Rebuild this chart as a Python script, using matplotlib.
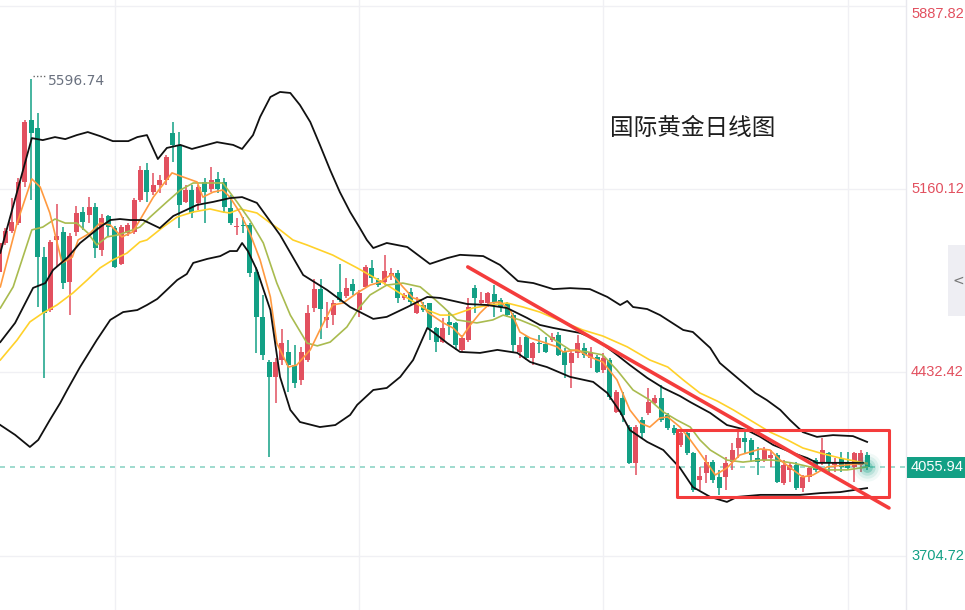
import matplotlib
matplotlib.use("Agg")
import matplotlib.pyplot as plt
from matplotlib.patches import Rectangle
from matplotlib.lines import Line2D
import numpy as np

# daily candles
opens = [4831, 4946, 4994, 5026, 5188, 5434, 5402, 4891, 4680, 4958,
         4990, 4791, 4990, 5069, 5058, 5089, 4918, 5053, 5006, 4863,
         4986, 4990, 5117, 5236, 5149, 5176, 5196, 5382, 5335, 5109,
         5156, 5105, 5188, 5160, 5200, 5188, 5085, 5010, 5018, 5018,
         4831, 4653, 4474, 4415, 4482, 4514, 4462, 4403, 4482, 4688,
         4764, 4641, 4661, 4752, 4736, 4784, 4680, 4772, 4847, 4800,
         4791, 4819, 4827, 4728, 4752, 4669, 4700, 4708, 4609, 4554,
         4633, 4629, 4522, 4562, 4768, 4708, 4708, 4744, 4720, 4708,
         4661, 4514, 4573, 4490, 4550, 4546, 4562, 4581, 4514, 4470,
         4510, 4530, 4490, 4494, 4443, 4482, 4276, 4331, 4217, 4074,
         4244, 4272, 4312, 4331, 4264, 4213, 4145, 4193, 4113, 4006,
         4034, 4078, 4018, 4018, 4078, 4133, 4173, 4165, 4094, 4086,
         4094, 4105, 3994, 4046, 4066, 3974, 4018, 4086, 4078, 4113,
         4066, 4094, 4078, 4058, 4066, 4105]
highs = [4958, 5006, 5125, 5204, 5434, 5596.74, 5462, 4930, 4958, 5101,
         5010, 4986, 5093, 5089, 5129, 5105, 5061, 5057, 5014, 5018,
         5026, 5125, 5252, 5264, 5224, 5216, 5295, 5426, 5386, 5176,
         5176, 5176, 5204, 5248, 5228, 5204, 5137, 5045, 5049, 5026,
         4851, 4740, 4482, 4490, 4605, 4562, 4542, 4534, 4700, 4803,
         4803, 4712, 4720, 4863, 4807, 4803, 4760, 4859, 4879, 4807,
         4899, 4847, 4839, 4748, 4768, 4732, 4712, 4708, 4613, 4648,
         4669, 4633, 4581, 4728, 4780, 4752, 4752, 4780, 4728, 4712,
         4669, 4573, 4581, 4554, 4581, 4573, 4589, 4593, 4530, 4522,
         4581, 4550, 4534, 4502, 4510, 4490, 4363, 4355, 4224, 4224,
         4256, 4371, 4343, 4383, 4272, 4224, 4205, 4197, 4117, 4058,
         4105, 4086, 4046, 4098, 4153, 4197, 4197, 4173, 4137, 4137,
         4125, 4113, 4086, 4078, 4078, 4026, 4058, 4094, 4173, 4117,
         4094, 4117, 4117, 4117, 4125, 4117]
lows = [4819, 4938, 4986, 5018, 5168, 5117, 4692, 4411, 4673, 4851,
        4764, 4661, 4974, 4998, 5026, 4887, 4895, 4970, 4847, 4859,
        4974, 4982, 5109, 5109, 5137, 5145, 5176, 5267, 5006, 5105,
        5045, 5077, 5026, 5149, 5145, 5065, 5018, 4978, 4986, 4811,
        4510, 4482, 4098, 4312, 4462, 4355, 4371, 4383, 4474, 4673,
        4566, 4609, 4621, 4712, 4728, 4740, 4653, 4768, 4788, 4772,
        4780, 4800, 4708, 4720, 4700, 4665, 4673, 4562, 4514, 4550,
        4581, 4522, 4514, 4554, 4669, 4700, 4692, 4653, 4673, 4653,
        4514, 4490, 4482, 4462, 4510, 4510, 4554, 4498, 4411, 4371,
        4490, 4490, 4450, 4431, 4431, 4324, 4272, 4236, 4070, 4026,
        4173, 4264, 4308, 4236, 4205, 4185, 4137, 4105, 3959, 3967,
        3994, 3994, 3947, 3967, 4046, 4094, 4113, 4078, 4026, 4078,
        4058, 3994, 3986, 3998, 3967, 3959, 3998, 4038, 4066, 4038,
        4038, 4038, 4046, 3998, 4038, 4046]
closes = [4946, 4994, 5030, 5188, 5426, 5382, 4891, 4669, 4950, 4974,
          4788, 4974, 5065, 5030, 5089, 4926, 5045, 5010, 4851, 5010,
          5018, 5117, 5236, 5149, 5176, 5196, 5287, 5335, 5097, 5156,
          5065, 5168, 5149, 5196, 5160, 5089, 5026, 5014, 5014, 4827,
          4653, 4502, 4415, 4474, 4550, 4462, 4391, 4514, 4669, 4764,
          4684, 4653, 4708, 4720, 4768, 4756, 4748, 4851, 4807, 4780,
          4835, 4827, 4728, 4740, 4712, 4712, 4680, 4609, 4554, 4609,
          4621, 4542, 4569, 4692, 4728, 4720, 4748, 4712, 4692, 4661,
          4542, 4542, 4490, 4550, 4546, 4514, 4573, 4502, 4462, 4510,
          4550, 4502, 4514, 4435, 4490, 4335, 4355, 4264, 4074, 4217,
          4193, 4316, 4331, 4244, 4213, 4193, 4193, 4113, 3967, 4022,
          4078, 4006, 3974, 4074, 4125, 4173, 4157, 4105, 4078, 4125,
          4105, 3998, 4066, 4066, 3974, 4018, 4054, 4046, 4125, 4078,
          4078, 4058, 4054, 4113, 4113, 4055.94]

# bollinger bands (upper / middle / lower), sampled at candle positions
up_x = [0.2, 5.1, 6.8, 8.7, 10.3, 12.1, 13.8, 15.7, 17.7, 20.1, 21.5, 23.0, 24.7, 26.1, 28.2,
        30.0, 33.9, 36.4, 37.8, 39.5, 40.6, 42.2, 43.7, 45.3, 46.8, 48.4, 49.9, 51.5, 53.0, 54.6,
        56.1, 57.2, 58.2, 60.3, 63.5, 67.0, 69.7, 71.7, 75.3, 77.9, 80.7, 83.1, 86.2, 88.8, 91.9,
        94.6, 96.6, 97.7, 98.6, 100.8, 102.8, 106.4, 107.9, 110.6, 112.1, 115.2, 117.6, 119.4,
        121.5, 123.0, 125.0, 127.2, 129.7, 132.8, 135.0]
up_v = [4907, 5362, 5354, 5366, 5358, 5374, 5386, 5370, 5350, 5350, 5366, 5374, 5279, 5323, 5335,
        5319, 5346, 5335, 5319, 5374, 5446, 5525, 5545, 5541, 5493, 5426, 5335, 5235, 5148, 5069,
        5006, 4958, 4926, 4946, 4930, 4863, 4886, 4899, 4894, 4859, 4795, 4787, 4763, 4767, 4763,
        4732, 4700, 4716, 4692, 4684, 4660, 4601, 4593, 4530, 4470, 4403, 4351, 4323,
        4284, 4244, 4196, 4177, 4184, 4180, 4157]
mid_x = [0.2, 2.5, 5.3, 7.2, 8.4, 10.6, 12.6, 15.7, 17.3, 18.8, 20.4, 22.4, 25.0, 27.1, 30.8,
         33.3, 35.9, 37.8, 40.1, 43.7, 47.3, 51.0, 54.6, 58.2, 60.3, 63.5, 66.6, 68.6, 72.8, 75.9,
         79.0, 82.1, 84.1, 86.2, 90.4, 93.0, 95.5, 98.1, 100.8, 103.3, 105.9, 107.5, 110.6, 113.2,
         116.3, 118.4, 120.4, 123.5, 125.7, 127.2, 131.9, 134.4]
mid_v = [4553, 4629, 4768, 4787, 4839, 4887, 4946, 5009, 5037, 5041, 5037, 5037, 5005, 5053, 5097,
         5109, 5124, 5128, 5105, 4978, 4819, 4760, 4692, 4645, 4653, 4692, 4732, 4728, 4704, 4700,
         4688, 4649, 4621, 4609, 4589, 4561, 4514, 4462, 4411, 4371, 4339, 4315, 4272, 4224,
         4204, 4177, 4145, 4113, 4093, 4074, 4074, 4074]
low_x = [0.2, 2.5, 4.8, 6.1, 7.9, 9.5, 10.6, 12.6, 15.2, 17.3, 19.3, 21.5, 23.0, 24.6, 26.1,
         27.7, 29.2, 30.2, 32.4, 34.4, 35.9, 37.0, 37.8, 38.7, 40.1, 42.2, 43.7, 45.3, 46.8, 49.9,
         52.3, 54.6, 55.7, 58.2, 60.3, 62.4, 64.4, 66.6, 67.5, 69.7, 71.7, 74.8, 77.5, 80.6, 82.6,
         84.1, 85.2, 88.8, 92.4, 94.6, 96.6, 98.1, 100.8, 103.3, 105.9, 107.9, 110.6, 113.2, 114.8,
         118.4, 124.6, 127.7, 130.8, 135.0]
low_v = [4224, 4185, 4137, 4165, 4244, 4311, 4363, 4454, 4561, 4641, 4672, 4680, 4700, 4724, 4760,
         4799, 4823, 4867, 4883, 4894, 4914, 4914, 4946, 4914, 4839, 4680, 4415, 4284, 4236, 4216,
         4224, 4264, 4304, 4363, 4371, 4415, 4482, 4609, 4593, 4549, 4514, 4510, 4522, 4510, 4474,
         4462, 4454, 4415, 4395, 4351, 4276, 4204, 4157, 4125, 4054, 3978, 3939, 3919, 3939,
         3947, 3947, 3954, 3958, 3974]

# moving averages
ma5_x = [0.2, 2.8, 5.1, 6.4, 7.9, 9.8, 11.4, 12.3, 14.2, 15.7, 17.3, 19.1, 20.8, 21.9, 24.0,
         26.9, 28.6, 30.8, 31.7, 33.3, 34.8, 35.9, 37.5, 39.0, 40.6, 42.2, 43.2, 45.0, 46.3, 48.4,
         49.9, 51.9, 53.5, 55.7, 57.7, 59.3, 61.1, 62.8, 64.4, 65.5, 66.6, 69.1, 70.6, 72.0, 73.3,
         74.8, 76.4, 77.9, 79.5, 81.0, 82.6, 84.6, 86.8, 87.7, 89.9, 91.9, 93.9, 96.1, 98.1, 99.7,
         101.2, 102.8, 104.0, 105.9, 107.5, 109.0, 111.4, 113.2, 115.2, 118.4, 119.9, 121.5, 123.5,
         125.0, 126.6, 128.8, 131.9, 135.0]
ma5_v = [4772, 5025, 5200, 5168, 5065, 4867, 4890, 4958, 4986, 5025, 5017, 4970, 4990, 5037, 5128,
         5224, 5208, 5188, 5128, 5148, 5156, 5128, 5065, 4986, 4879, 4732, 4549, 4454, 4462, 4522,
         4601, 4700, 4708, 4748, 4779, 4791, 4823, 4772, 4728, 4720, 4672, 4629, 4609, 4573, 4621,
         4668, 4708, 4712, 4680, 4593, 4569, 4553, 4534, 4514, 4522, 4494, 4474, 4403, 4284, 4232,
         4216, 4252, 4256, 4216, 4165, 4113, 4026, 4054, 4105, 4129, 4125, 4085, 4046,
         4018, 4026, 4058, 4066, 4073]
ma10_x = [0.2, 2.2, 5.1, 6.8, 8.7, 10.3, 12.1, 13.8, 15.2, 16.8, 18.5, 20.8, 21.9, 23.5, 26.1,
          28.2, 30.2, 32.8, 34.8, 37.0, 39.0, 41.1, 43.2, 45.3, 47.9, 49.5, 51.5, 54.1, 56.1, 57.7,
          60.3, 62.8, 65.5, 67.0, 69.1, 71.2, 74.3, 76.8, 78.4, 81.0, 83.7, 85.7, 88.8, 91.5, 93.9,
          96.1, 98.6, 101.2, 103.3, 105.4, 107.5, 109.0, 110.6, 113.2, 115.7, 118.4, 120.4, 123.5,
          126.1, 128.8, 131.9, 135.0]
ma10_v = [4688, 4772, 4998, 5009, 5041, 5025, 5025, 4986, 4938, 4970, 4978, 4998, 5009, 5049, 5109,
          5156, 5184, 5184, 5184, 5109, 5037, 4946, 4787, 4660, 4549, 4538, 4553, 4613, 4692, 4740,
          4779, 4787, 4772, 4740, 4692, 4641, 4629, 4641, 4660, 4641, 4613, 4573, 4522, 4514, 4502,
          4442, 4363, 4323, 4276, 4244, 4216, 4165, 4125, 4085, 4077, 4085, 4085, 4073,
          4058, 4046, 4046, 4058]
ma30_x = [0.2, 2.8, 4.8, 6.8, 9.0, 11.5, 13.7, 15.7, 17.7, 19.9, 21.9, 23.0, 25.5, 27.7, 30.2,
          32.8, 34.8, 35.9, 37.5, 40.1, 42.2, 43.7, 45.7, 47.9, 51.9, 55.7, 58.2, 60.8, 63.5, 66.6,
          68.6, 70.6, 73.7, 76.4, 79.0, 81.5, 84.1, 87.7, 90.8, 93.9, 97.7, 101.2, 104.0, 106.4,
          109.0, 111.7, 114.2, 117.3, 119.9, 122.6, 125.0, 127.7, 130.8, 133.9, 135.0]
ma30_v = [4482, 4561, 4633, 4668, 4700, 4748, 4799, 4847, 4879, 4906, 4950, 4958, 5009, 5049, 5069,
          5081, 5069, 5065, 5081, 5065, 5025, 4998, 4958, 4938, 4898, 4847, 4811, 4772, 4728, 4680,
          4660, 4660, 4688, 4700, 4708, 4692, 4672, 4633, 4601, 4577, 4534, 4482, 4454, 4403,
          4351, 4319, 4284, 4236, 4196, 4165, 4133, 4113, 4093, 4077, 4070]

# drawn annotations: trend line ends and consolidation box
trend_x = [72.9, 138.4]
trend_v = [4851, 3895]
box_x = [105.4, 138.4]
box_v = [3938, 4204]

axis_ticks = [5887.82, 5160.12, 4432.42, 3704.72]
last_price = 4055.94
peak_price = 5596.74

UP = "#e2505f"
DOWN = "#13a085"
YLO, YHI = 3490.4, 5909.7

fig = plt.figure(figsize=(9.65, 6.1), dpi=100)
ax = fig.add_axes([0, 0, 906 / 965, 1])
ax.set_xlim(0.15, 141.05)
ax.set_ylim(YLO, YHI)
ax.axis("off")

# grid
for t in axis_ticks:
    ax.axhline(t, color="#f0f0f4", lw=1, zorder=0)
for gx in [18, 56, 94, 132]:
    ax.axvline(gx, color="#f0f0f4", lw=1, zorder=0)

# candles
o = np.array(opens)
h = np.array(highs)
l = np.array(lows)
c = np.array(closes)
idx = np.arange(len(o))
cols = np.where(c >= o, UP, DOWN)
ax.vlines(idx, l, h, colors=cols, lw=1.1, zorder=2)
body_lo = np.minimum(o, c)
body_h = np.maximum(np.abs(c - o), 3)
ax.bar(idx, body_h, bottom=body_lo, width=0.78, color=cols, zorder=2)

# indicator lines
ax.plot(ma30_x, ma30_v, color="#ffd12a", lw=1.2, zorder=3)
ax.plot(ma10_x, ma10_v, color="#a9bb4f", lw=1.2, zorder=3)
ax.plot(ma5_x, ma5_v, color="#ff9a40", lw=1.2, zorder=3)
ax.plot(up_x, up_v, color="#111111", lw=1.3, zorder=3)
ax.plot(mid_x, mid_v, color="#111111", lw=1.3, zorder=3)
ax.plot(low_x, low_v, color="#111111", lw=1.3, zorder=3)

# current price line and glow
ax.axhline(last_price, color="#8fd4c6", lw=1.2, ls=(0, (3, 3)), zorder=1)
for s, a in [(420, 0.06), (260, 0.1), (140, 0.16), (60, 0.3)]:
    ax.scatter([135], [last_price], s=s, color=DOWN, alpha=a, lw=0, zorder=4)

# trend line and box
ax.plot(trend_x, trend_v, color="#f43c3c", lw=2.6, solid_capstyle="round", zorder=5)
ax.add_patch(Rectangle((box_x[0], box_v[0]), box_x[1] - box_x[0], box_v[1] - box_v[0],
                       fill=False, ec="#f43c3c", lw=2.2, joinstyle="round", zorder=5))

# peak label
ax.plot([5.3, 7.3], [peak_price + 10, peak_price + 10], ls=(0, (1, 1.5)), color="#666666", lw=1, zorder=4)
ax.text(7.6, peak_price - 8, f"{peak_price:.2f}", fontsize=10, color="#6b7280", va="center", ha="left")

# title
fig.text(610 / 965, 1 - 128 / 610, "国际黄金日线图", fontsize=17, color="#1e1e1e",
         family=["Noto Sans CJK SC", "DejaVu Sans"], ha="left", va="center")

# right price axis
fig.add_artist(Line2D([906 / 965, 906 / 965], [0, 1], color="#e8e8ee", lw=1))
for t in axis_ticks:
    col = UP if t > last_price else DOWN
    yy = (t - YLO) / (YHI - YLO)
    yy = min(yy, 1 - 14 / 610)
    fig.text(911 / 965, yy, f"{t:.2f}", fontsize=10.5, color=col, ha="left", va="center",
             family="Liberation Sans")
fig.text(911 / 965, (last_price - YLO) / (YHI - YLO), f"{last_price:.2f}", fontsize=10.5,
         color="white", ha="left", va="center", family="Liberation Sans",
         bbox=dict(boxstyle="square,pad=0.25", fc=DOWN, ec="none"))

# small collapse tab at the right edge
fig.add_artist(Rectangle((948 / 965, 1 - 316 / 610), 17 / 965, 71 / 610, transform=fig.transFigure,
                         fc="#eeeef3", ec="none"))
fig.text(953 / 965, 1 - 281 / 610, "<", fontsize=10, color="#777777", ha="left", va="center")

fig.savefig("out.png", dpi=100)
